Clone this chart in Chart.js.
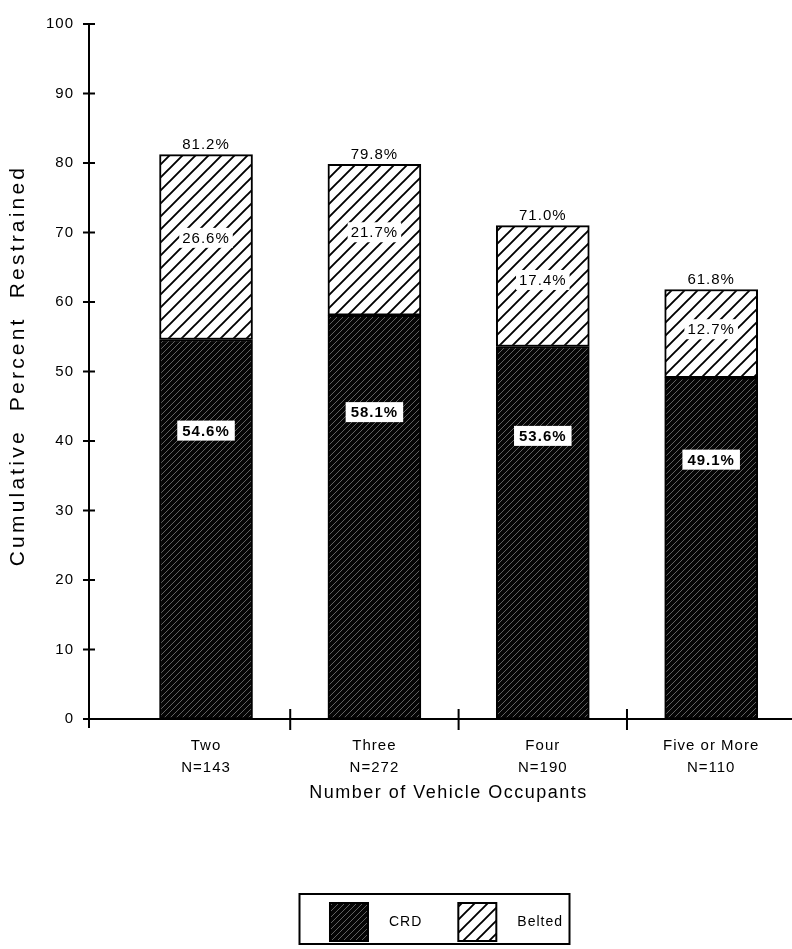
<!DOCTYPE html>
<html>
<head>
<meta charset="utf-8">
<script src="https://cdn.jsdelivr.net/npm/chart.js@4.4.1/dist/chart.umd.min.js"></script>
<style>
    html, body { margin: 0; padding: 0; background: #fff; }
    #wrap { width: 792px; height: 949px; }
</style>
</head>
<body>
<div id="wrap"><canvas id="restraintChart"></canvas></div>
<script>
// Data
const categories = ['Two', 'Three', 'Four', 'Five or More'];
const sampleSizes = ['N=143', 'N=272', 'N=190', 'N=110'];
const crdValues = [54.6, 58.1, 53.6, 49.1];
const beltedValues = [26.6, 21.7, 17.4, 12.7];
const totalLabels = ['81.2%', '79.8%', '71.0%', '61.8%'];
const seriesNames = ['CRD', 'Belted'];
const xTitle = 'Number of Vehicle Occupants';
const yTitle = 'Cumulative  Percent  Restrained';

const FONT = '"Liberation Sans", Arial, Helvetica, sans-serif';

// diagonal hatch pattern
function makeHatch(bg, fg, size, width) {
    const c = document.createElement('canvas');
    c.width = c.height = size;
    const g = c.getContext('2d');
    g.fillStyle = bg;
    g.fillRect(0, 0, size, size);
    g.strokeStyle = fg;
    g.lineWidth = width;
    g.beginPath();
    g.moveTo(0, size); g.lineTo(size, 0);
    g.moveTo(-size / 2, size / 2); g.lineTo(size / 2, -size / 2);
    g.moveTo(size / 2, size * 1.5); g.lineTo(size * 1.5, size / 2);
    g.stroke();
    return g.createPattern(c, 'repeat');
}

const crdFill = makeHatch('#050505', 'rgba(210,210,210,0.5)', 6, 0.9);
const beltedFill = makeHatch('#ffffff', '#000000', 13, 1.9);

// text spacing like the old typeset figure
const spacingPlugin = {
    id: 'spacing',
    beforeLayout(chart) { chart.ctx.letterSpacing = '1px'; },
    beforeDraw(chart) { chart.ctx.letterSpacing = '1px'; }
};

// tick marks that cross the axis lines, axis titles
const axisExtras = {
    id: 'axisExtras',
    afterDraw(chart) {
        const { ctx, scales: { x, y } } = chart;
        ctx.save();
        ctx.strokeStyle = '#000';
        ctx.lineWidth = 2;
        ctx.beginPath();
        y.ticks.forEach(t => {
            const py = y.getPixelForValue(t.value);
            ctx.moveTo(x.left - 6, py);
            ctx.lineTo(x.left + 6, py);
        });
        ctx.moveTo(x.left, y.bottom);
        ctx.lineTo(x.left, y.bottom + 9);
        for (let i = 0; i < categories.length - 1; i++) {
            const px = x.getPixelForValue(i + 0.5);
            ctx.moveTo(px, y.bottom - 10);
            ctx.lineTo(px, y.bottom + 11);
        }
        ctx.stroke();

        ctx.fillStyle = '#000';
        ctx.textAlign = 'center';
        ctx.textBaseline = 'middle';
        ctx.font = '18px ' + FONT;
        ctx.letterSpacing = '1.5px';
        ctx.fillText(xTitle, (x.left + x.right) / 2 + 8, y.bottom + 74);

        ctx.translate(18, (y.top + y.bottom) / 2 - 6);
        ctx.rotate(-Math.PI / 2);
        ctx.font = '21px ' + FONT;
        ctx.letterSpacing = '3.2px';
        ctx.fillText(yTitle, 0, 0);
        ctx.restore();
    }
};

// percentage labels on and above the bars
const barLabels = {
    id: 'barLabels',
    afterDatasetsDraw(chart) {
        const { ctx, scales: { y } } = chart;
        const crdMeta = chart.getDatasetMeta(0);
        const beltMeta = chart.getDatasetMeta(1);
        ctx.save();
        ctx.letterSpacing = '1px';
        ctx.textAlign = 'center';
        ctx.textBaseline = 'middle';
        crdMeta.data.forEach((bar, i) => {
            // CRD label, boxed in white
            const cy = y.getPixelForValue(crdValues[i] * 0.76);
            ctx.font = 'bold 15px ' + FONT;
            const txt = crdValues[i].toFixed(1) + '%';
            const w = ctx.measureText(txt).width + 10;
            ctx.fillStyle = '#fff';
            ctx.fillRect(bar.x - w / 2, cy - 10, w, 20);
            ctx.fillStyle = '#000';
            ctx.fillText(txt, bar.x, cy + 1);

            // Belted label, hatch cleared behind it
            const top = beltMeta.data[i];
            const by = y.getPixelForValue(crdValues[i] + beltedValues[i] * 0.55);
            ctx.font = '15px ' + FONT;
            const btxt = beltedValues[i].toFixed(1) + '%';
            const bw = ctx.measureText(btxt).width + 6;
            ctx.fillStyle = '#fff';
            ctx.fillRect(top.x - bw / 2, by - 10, bw, 20);
            ctx.fillStyle = '#000';
            ctx.fillText(btxt, top.x, by + 1);

            // cumulative total above the bar
            ctx.fillText(totalLabels[i], top.x, top.y - 10);
        });
        ctx.restore();
    }
};

// boxed legend under the x axis title
const boxLegend = {
    id: 'boxLegend',
    afterDraw(chart) {
        const { ctx, chartArea } = chart;
        const sw = 38, gapText = 21, gapItem = 36;
        ctx.save();
        ctx.letterSpacing = '1px';
        ctx.font = '14px ' + FONT;
        ctx.textBaseline = 'middle';
        ctx.textAlign = 'left';
        const widths = seriesNames.map(n => ctx.measureText(n).width);
        const content = widths.reduce((s, w) => s + sw + gapText + w, 0) + gapItem;
        const cx = (chartArea.left + chartArea.right) / 2 - 6;
        const boxW = 270, boxTop = 894, boxH = 50;
        ctx.strokeStyle = '#000';
        ctx.lineWidth = 2;
        ctx.strokeRect(cx - boxW / 2, boxTop, boxW, boxH);
        let px = cx - content / 2 + 12;
        const sy = boxTop + 9;
        chart.data.datasets.forEach((ds, i) => {
            ctx.fillStyle = ds.backgroundColor;
            ctx.fillRect(px, sy, sw, sw);
            ctx.lineWidth = 2;
            ctx.strokeRect(px, sy, sw, sw);
            ctx.fillStyle = '#000';
            ctx.fillText(seriesNames[i], px + sw + gapText, sy + sw / 2);
            px += sw + gapText + widths[i] + gapItem;
        });
        ctx.restore();
    }
};

const ctx = document.getElementById('restraintChart').getContext('2d');
new Chart(ctx, {
    type: 'bar',
    data: {
        datasets: [
            {
                label: seriesNames[0],
                data: crdValues.map((v, i) => ({ x: i, y: v })),
                backgroundColor: crdFill,
                borderColor: '#000',
                borderWidth: 2,
                borderSkipped: false,
                barThickness: 93
            },
            {
                label: seriesNames[1],
                data: beltedValues.map((v, i) => ({ x: i, y: v })),
                backgroundColor: beltedFill,
                borderColor: '#000',
                borderWidth: 2,
                borderSkipped: false,
                barThickness: 93
            }
        ]
    },
    options: {
        responsive: true,
        maintainAspectRatio: false,
        animation: false,
        layout: { padding: { top: 15, right: 0, bottom: 130, left: 0 } },
        plugins: {
            legend: { display: false },
            tooltip: { enabled: false }
        },
        scales: {
            x: {
                type: 'linear',
                stacked: true,
                offset: false,
                min: -0.695,
                max: 3.48,
                afterBuildTicks: scale => {
                    scale.ticks = categories.map((c, i) => ({ value: i }));
                },
                afterFit: scale => { scale.height = 100; },
                ticks: {
                    autoSkip: false,
                    maxRotation: 0,
                    padding: 16,
                    color: '#000',
                    font: { family: FONT, size: 15, lineHeight: 1.45 },
                    callback: value => [categories[value], sampleSizes[value]]
                },
                grid: { display: false, drawTicks: false },
                border: { display: true, color: '#000', width: 2 }
            },
            y: {
                stacked: true,
                min: 0,
                max: 100,
                afterFit: scale => { scale.width = 89; },
                ticks: {
                    stepSize: 10,
                    padding: 15,
                    color: '#000',
                    font: { family: FONT, size: 15 }
                },
                grid: { display: false, drawTicks: false },
                border: { display: true, color: '#000', width: 2 }
            }
        }
    },
    plugins: [spacingPlugin, axisExtras, barLabels, boxLegend]
});
</script>
</body>
</html>
